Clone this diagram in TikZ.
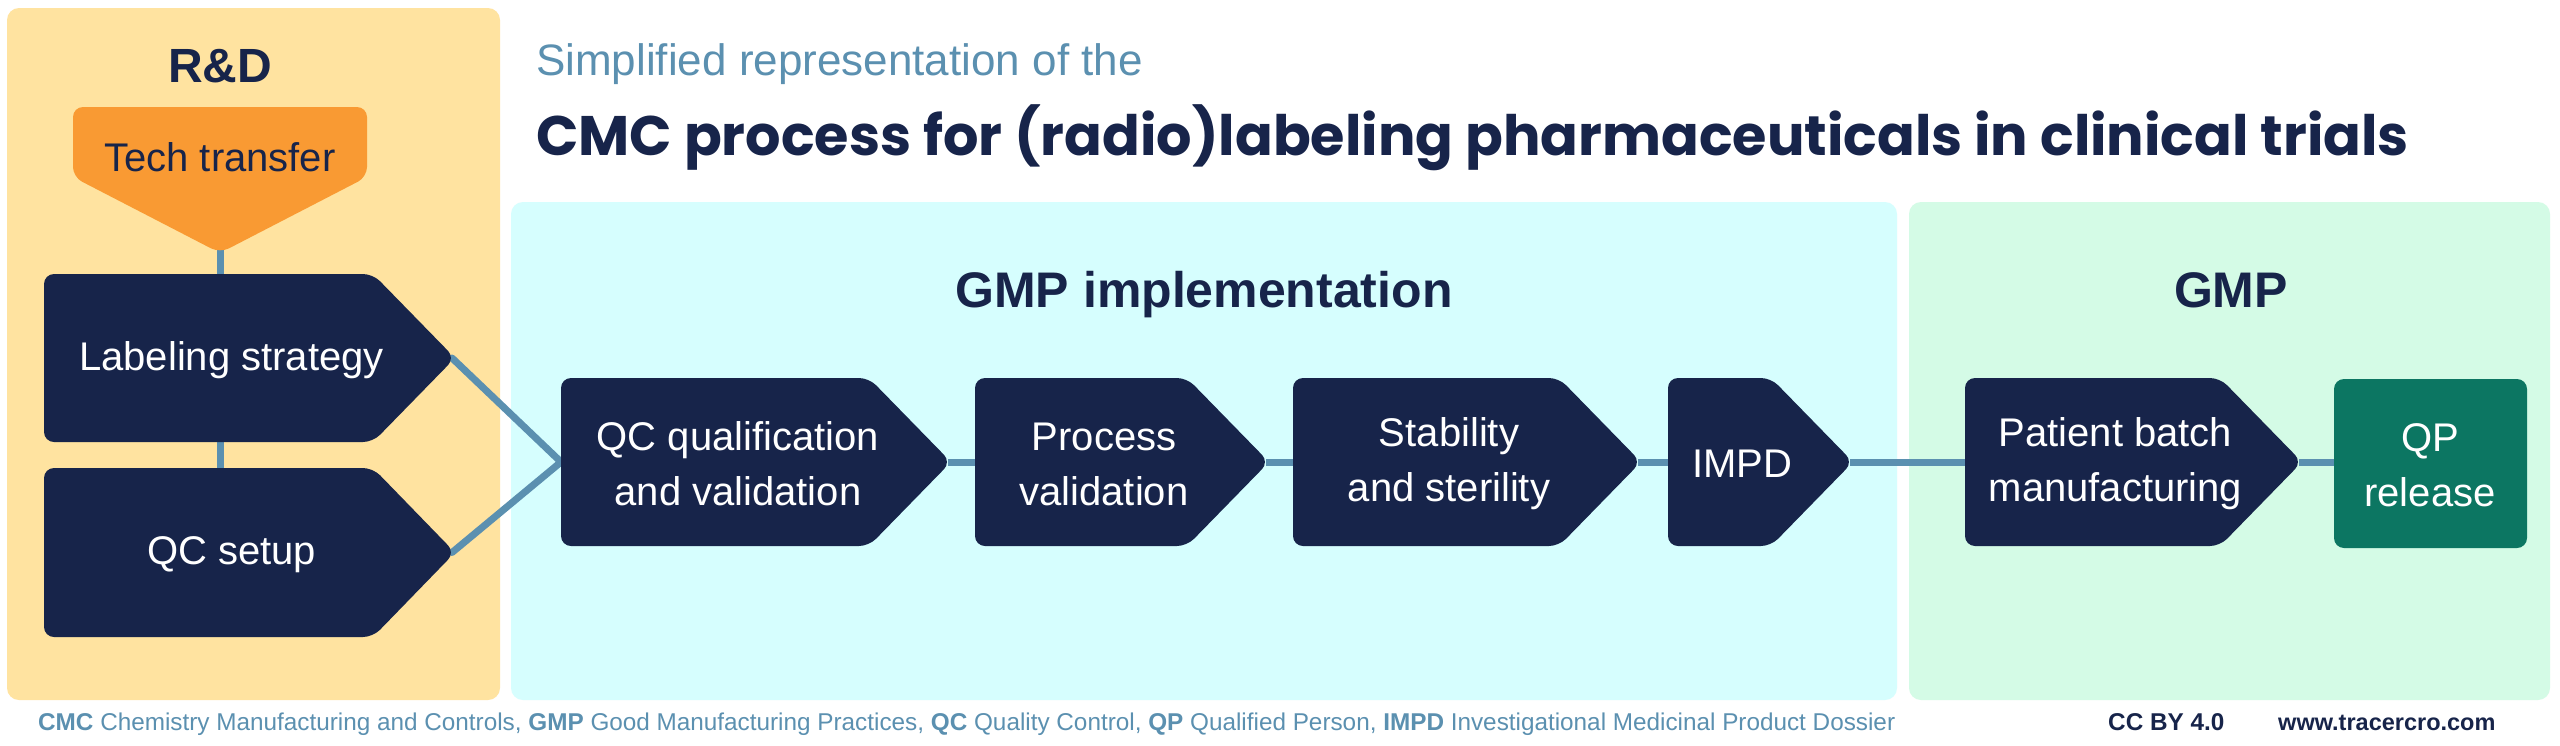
\documentclass[tikz,border=0pt]{standalone}
\usepackage{fontspec}
\setmainfont{Liberation Sans}
\newfontfamily\titlefont{Poppins}
\definecolor{navy}{HTML}{17244A}
\definecolor{rdyellow}{HTML}{FFE3A0}
\definecolor{ttorange}{HTML}{F99A33}
\definecolor{cyanp}{HTML}{D6FEFE}
\definecolor{mintp}{HTML}{D4FBE6}
\definecolor{qpgreen}{HTML}{0C7662}
\definecolor{connc}{HTML}{5B90B0}
\pgfdeclarelayer{panels}
\pgfdeclarelayer{bg}
\pgfsetlayers{panels,bg,main}
\newcommand\chevbox[6]{% name, x1, y1, tip x, y2, text
  \fill[boxshape] (#2,#3) -- ({#4-82},#3) -- (#4,{(#3+#5)/2}) -- ({#4-82},#5) -- (#2,#5) -- cycle;
  \coordinate (#1-in) at (#2,{(#3+#5)/2});
  \coordinate (#1-out) at ({#4-3},{(#3+#5)/2});
  \node[boxtext] (#1) at ({(#2+#4)/2-18},{(#3+#5)/2}) {#6};
}
\begin{document}
\begin{tikzpicture}[x=1pt,y=-1pt,
  panel/.style={rounded corners=12pt},
  boxshape/.style={fill=navy, rounded corners=10pt},
  boxtext/.style={text=white, font=\fontsize{40}{55}\selectfont, align=center, inner sep=0pt, yshift=-2pt},
  conn/.style={draw=connc, line width=7pt},
  head/.style={text=navy, font=\bfseries\fontsize{50}{60}\selectfont, inner sep=0pt, anchor=base},
  foot/.style={anchor=base west, inner sep=0pt, font=\fontsize{24.3}{28}\selectfont}
]
\useasboundingbox (0,0) rectangle (2560,745);
\begin{pgfonlayer}{panels}
\fill[white] (0,0) rectangle (2560,745);
\fill[panel, fill=rdyellow] (7,8) rectangle (500,700);
\fill[panel, fill=cyanp] (511,202) rectangle (1897,700);
\fill[panel, fill=mintp] (1909,202) rectangle (2550,700);
\end{pgfonlayer}

% headings
\node[head, font=\bfseries\fontsize{48}{56}\selectfont] (rd) at (220,82) {R\&D};
\node[head] (gmpi) at (1204,307) {GMP implementation};
\node[head] (gmp) at (2231,307) {GMP};
\node[anchor=base west, inner sep=0pt, text=connc, font=\fontsize{44}{50}\selectfont] (sub) at (536,75) {Simplified representation of the};
\node[anchor=base west, inner sep=0pt, text=navy, font=\titlefont\bfseries\fontsize{55.7}{62}\selectfont] (title) at (536,155) {CMC process for (radio)labeling pharmaceuticals in clinical trials};

% tech transfer
\fill[ttorange, rounded corners=10pt] (73,107) -- (367,107) -- (367,177) -- (220,253) -- (73,177) -- cycle;
\coordinate (tt-out) at (220,245);
\node[boxtext, text=navy] (tt) at (220,155) {Tech transfer};

% boxes
\chevbox{ls}{44}{274}{455}{442}{Labeling strategy}
\chevbox{qc}{44}{468}{455}{637}{QC setup}
\chevbox{qq}{561}{378}{951}{546}{QC qualification\\and validation}
\chevbox{pv}{975}{378}{1269}{546}{Process\\validation}
\chevbox{st}{1293}{378}{1641}{546}{Stability\\and sterility}
\chevbox{im}{1668}{378}{1853}{546}{IMPD}
\chevbox{pb}{1965}{378}{2302}{546}{Patient batch\\manufacturing}
\fill[qpgreen, rounded corners=10pt] (2334,379) rectangle (2527,548);
\coordinate (qp-in) at (2334,462);
\node[boxtext] (qp) at (2430,463) {QP\\release};

% connectors
\begin{pgfonlayer}{bg}
\draw[conn] (tt-out) -- (tt-out |- ls-in);
\draw[conn] (tt-out |- ls-in) -- (tt-out |- qc-in);
\draw[conn, line cap=round] (ls-out) -- (qq-in);
\draw[conn, line cap=round] (qc-out) -- (qq-in);
\draw[conn] (qq-out) -- (pv-in);
\draw[conn] (pv-out) -- (st-in);
\draw[conn] (st-out) -- (im-in);
\draw[conn] (im-out) -- (pb-in);
\draw[conn] (pb-out) -- (qp-in);
\end{pgfonlayer}

% footer
\node[foot, text=connc] (legend) at (38,730) {\textbf{CMC} Chemistry Manufacturing and Controls, \textbf{GMP} Good Manufacturing Practices, \textbf{QC} Quality Control, \textbf{QP} Qualified Person, \textbf{IMPD} Investigational Medicinal Product Dossier};
\node[foot, text=navy, font=\bfseries\fontsize{24.3}{28}\selectfont] (cc) at (2108,730) {CC BY 4.0};
\node[foot, text=navy, font=\bfseries\fontsize{23.5}{28}\selectfont] (web) at (2278,730) {www.tracercro.com};
\end{tikzpicture}
\end{document}
